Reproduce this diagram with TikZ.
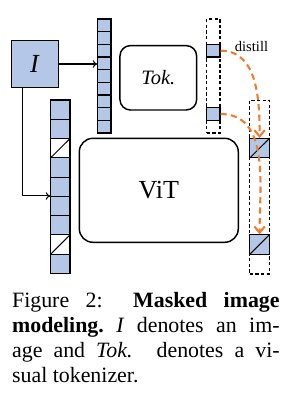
\documentclass[tikz,border=0pt]{standalone}
\usepackage{fontspec}
\setmainfont{Liberation Serif}
\usetikzlibrary{arrows.meta,calc}
\definecolor{cellblue}{RGB}{180,199,231}
\definecolor{distorange}{RGB}{237,125,49}
\begin{document}
\begin{tikzpicture}[x=0.48pt,y=-0.48pt,
  cell/.style={draw, fill=cellblue, line width=0.5pt},
  cellnode/.style={draw, fill=cellblue, line width=0.5pt, inner sep=0pt},
  maskcell/.style={draw, fill=white, line width=0.5pt, inner sep=0pt},
  outline/.style={inner sep=0pt},
  dashbox/.style={draw, line width=0.5pt, dash pattern=on 1.6pt off 1.1pt, inner sep=0pt},
  rbox/.style={draw, line width=0.7pt, inner sep=0pt},
  conn/.style={line width=0.5pt, -{To[length=2.2pt,width=3.6pt]}},
  distarrow/.style={draw=distorange, line width=1pt, dash pattern=on 3pt off 2pt,
    -{Straight Barb[length=3pt,width=5pt,line width=1pt]}}
]
\useasboundingbox (0,0) rectangle (296,395);

% image box
\node[cellnode, minimum width=22.4pt, minimum height=22.4pt,
  font=\fontsize{12.5}{14}\selectfont] (I) at (35,64) {\textit{I}};

% top token column (tokenizer input)
\node[outline, minimum width=6.38pt, minimum height=54.72pt] (tcol) at (104.35,76) {};
\foreach \i in {0,...,8}
  \draw[cell] (97.7,{19+\i*12.667}) rectangle ++(13.3,12.667);

% tokenizer box
\node[rbox, rounded corners=5pt, minimum width=36.8pt, minimum height=30.9pt,
  font=\fontsize{9.8}{11}\selectfont] (tok) at (158.3,77.8) {\textit{Tok.}};

% tokenizer output (dashed column)
\node[dashbox, minimum width=6.38pt, minimum height=54.72pt] (dcol) at (213.35,76) {};
\node[cellnode, minimum width=6.38pt, minimum height=6.08pt] (d1) at (213.35,50.67) {};
\node[cellnode, minimum width=6.38pt, minimum height=6.08pt] (d2) at (213.35,114) {};

\node[font=\fontsize{7}{8}\selectfont, inner sep=0pt] (dist) at (251.5,47) {distill};

% ViT input column
\node[outline, minimum width=9.26pt, minimum height=83.2pt] (lcol) at (60.35,186.67) {};
\foreach \i in {0,1,3,4,5,6,8}
  \draw[cell] (50.7,{100+\i*19.26}) rectangle ++(19.3,19.26);
\node[maskcell, minimum width=9.26pt, minimum height=9.24pt] (lm1) at (60.35,148.15) {};
\node[maskcell, minimum width=9.26pt, minimum height=9.24pt] (lm2) at (60.35,244.45) {};
\draw[line width=0.5pt] (lm1.south west) -- (lm1.north east);
\draw[line width=0.5pt] (lm2.south west) -- (lm2.north east);

% ViT box
\node[rbox, rounded corners=6.5pt, minimum width=76.3pt, minimum height=49.9pt,
  font=\fontsize{12.5}{14}\selectfont] (vit) at (158.8,190.3) {ViT};

% ViT output (dashed column)
\node[dashbox, minimum width=9.4pt, minimum height=83.5pt] (rcol) at (259.6,187) {};
\node[cellnode, minimum width=9.26pt, minimum height=9.24pt] (r1) at (259.6,148.15) {};
\node[cellnode, minimum width=9.26pt, minimum height=9.24pt] (r2) at (259.6,244.45) {};
\draw[line width=0.5pt] (r1.south west) -- (r1.north east);
\draw[line width=0.5pt] (r2.south west) -- (r2.north east);

% connectors
\draw[conn] (I.east) -- (I.east -| tcol.west);
\draw[conn] ([xshift=-5.9pt]I.south) |- ([yshift=-4.46pt]lcol.west);
\draw[distarrow] (d1.east) to[out=0,in=90] (r1.north);
\draw[distarrow] (d2.east) to[out=0,in=90] (r2.north);

% caption
\begin{scope}[every node/.style={anchor=base west, inner sep=0pt,
    font=\fontsize{10.5}{12.6}\selectfont}]
\node (cap1) at (11.7,307.5) {\hbox to 128.4pt{Figure\hskip 0.25em plus 1fil 2:\hskip 0.9em plus 1fil\textbf{Masked}\hskip 0.25em plus 1fil\textbf{image}}};
\node (cap2) at (11.7,332.5) {\makebox[128.4pt][s]{\textbf{modeling.}\ \textit{I} denotes an im-}};
\node (cap3) at (11.7,357.5) {\makebox[128.4pt][s]{age and \textit{Tok.} denotes a vi-}};
\node (cap4) at (11.7,382.5) {sual tokenizer.};
\end{scope}
\end{tikzpicture}
\end{document}
